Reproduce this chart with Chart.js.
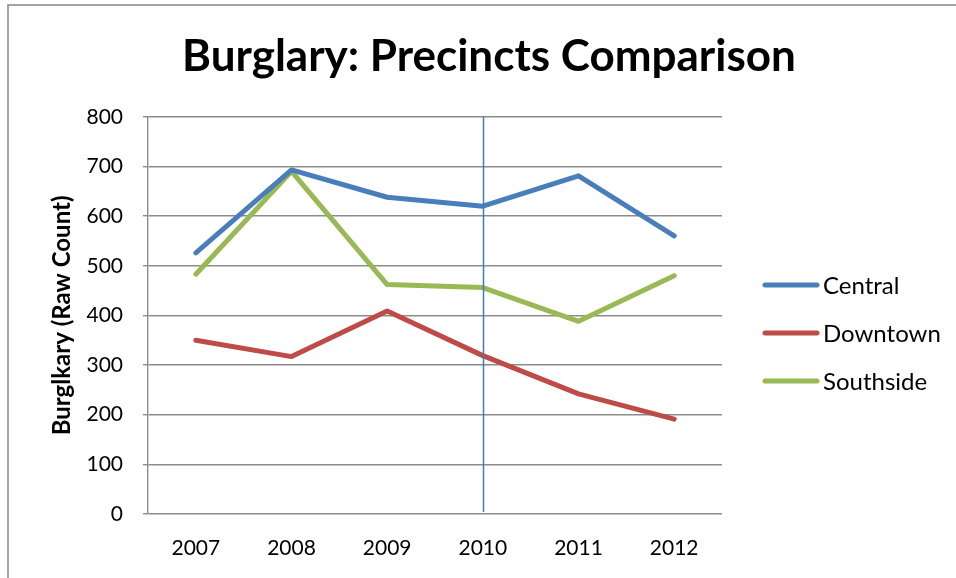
<!DOCTYPE html>
<html>
<head>
<meta charset="utf-8">
<script src="https://cdn.jsdelivr.net/npm/chart.js@4"></script>
<style>
html,body{margin:0;padding:0;background:#fff;}
#wrap{position:relative;width:956px;height:578px;}
</style>
</head>
<body>
<div id="wrap"><canvas id="c" width="956" height="578"></canvas></div>
<script>
const years = ['2007','2008','2009','2010','2011','2012'];
const central = [526, 693, 638, 620, 681, 560];
const downtown = [350, 317, 409, 319, 242, 191];
const southside = [483, 690, 462, 456, 388, 480];
const seriesNames = ['Central','Downtown','Southside'];
const seriesColors = ['#4a7ebb','#be4b48','#98b954'];
const yTicks = [0,100,200,300,400,500,600,700,800];
const markerYear = '2010';
const FONT = 'Lato, "Open Sans", sans-serif';

const framePlugin = {
  id: 'frame',
  beforeDraw(chart) {
    const ctx = chart.ctx;
    ctx.save();
    ctx.fillStyle = '#fff';
    ctx.fillRect(0, 0, chart.width, chart.height);
    ctx.strokeStyle = '#868686';
    ctx.lineWidth = 1.5;
    ctx.beginPath();
    ctx.moveTo(8, chart.height);
    ctx.lineTo(8, 5);
    ctx.lineTo(chart.width, 5);
    ctx.stroke();
    ctx.restore();
  },
  afterDatasetsDraw(chart) {
    const ctx = chart.ctx;
    const x = chart.scales.x.getPixelForValue(years.indexOf(markerYear));
    const top = chart.scales.y.getPixelForValue(800);
    const bot = chart.scales.y.getPixelForValue(0) - 2;
    ctx.save();
    ctx.strokeStyle = '#4279c0';
    ctx.lineWidth = 1.5;
    ctx.beginPath();
    ctx.moveTo(Math.round(x) + 0.5, top);
    ctx.lineTo(Math.round(x) + 0.5, bot);
    ctx.stroke();
    ctx.restore();
  },
  afterDraw(chart) {
    const ctx = chart.ctx;
    ctx.save();
    const x0 = 765, x1 = 817, y0 = 285, dy = 48;
    chart.data.datasets.forEach((ds, i) => {
      const y = y0 + i * dy;
      ctx.strokeStyle = ds.borderColor;
      ctx.lineWidth = 5;
      ctx.lineCap = 'round';
      ctx.beginPath();
      ctx.moveTo(x0, y);
      ctx.lineTo(x1, y);
      ctx.stroke();
      ctx.fillStyle = '#000';
      ctx.font = '24px ' + FONT;
      ctx.textAlign = 'left';
      ctx.textBaseline = 'middle';
      ctx.fillText(ds.label, 823, y + 1);
    });
    ctx.restore();
  }
};

const mk = (i, data) => ({
  label: seriesNames[i],
  data: data,
  borderColor: seriesColors[i],
  backgroundColor: seriesColors[i],
  borderWidth: 5,
  borderCapStyle: 'round',
  borderJoinStyle: 'round',
  pointRadius: 0,
  pointHoverRadius: 0,
  tension: 0,
  fill: false
});

new Chart(document.getElementById('c'), {
  type: 'line',
  data: {
    labels: years,
    datasets: [mk(0, central), mk(1, downtown), mk(2, southside)]
  },
  plugins: [framePlugin],
  options: {
    responsive: false,
    animation: false,
    layout: { padding: { left: 22, right: 0, top: 0, bottom: 0 } },
    plugins: {
      legend: { display: false },
      tooltip: { enabled: false },
      title: {
        display: true,
        text: 'Burglary: Precincts Comparison',
        color: '#000',
        font: { family: FONT, size: 44, weight: 'bold', lineHeight: 1.2 },
        padding: { top: 30, bottom: 34 }
      }
    },
    scales: {
      x: {
        offset: true,
        afterFit(s) { s.height = 64; },
        grid: { display: false, drawTicks: false },
        border: { display: false },
        ticks: { color: '#000', font: { family: FONT, size: 21 }, padding: 22, maxRotation: 0 }
      },
      y: {
        min: 0, max: 800,
        afterBuildTicks(s) { s.ticks = yTicks.map(v => ({ value: v })); },
        afterFit(s) { s.width = 126; },
        grid: { color: '#8c8c8c', lineWidth: 1.4, tickLength: 5, drawTicks: true },
        border: { display: true, color: '#8c8c8c', width: 1.4 },
        ticks: { color: '#000', font: { family: FONT, size: 21 }, padding: 20 },
        title: {
          display: true,
          text: 'Burglkary (Raw Count)',
          color: '#000',
          font: { family: FONT, size: 24, weight: 'bold' },
          padding: { top: 26, bottom: 0 }
        }
      },
      y2: {
        position: 'right',
        display: true,
        afterFit(s) { s.width = 234; },
        grid: { display: false, drawTicks: false },
        border: { display: false },
        ticks: { display: false }
      }
    }
  }
});
</script>
</body>
</html>
